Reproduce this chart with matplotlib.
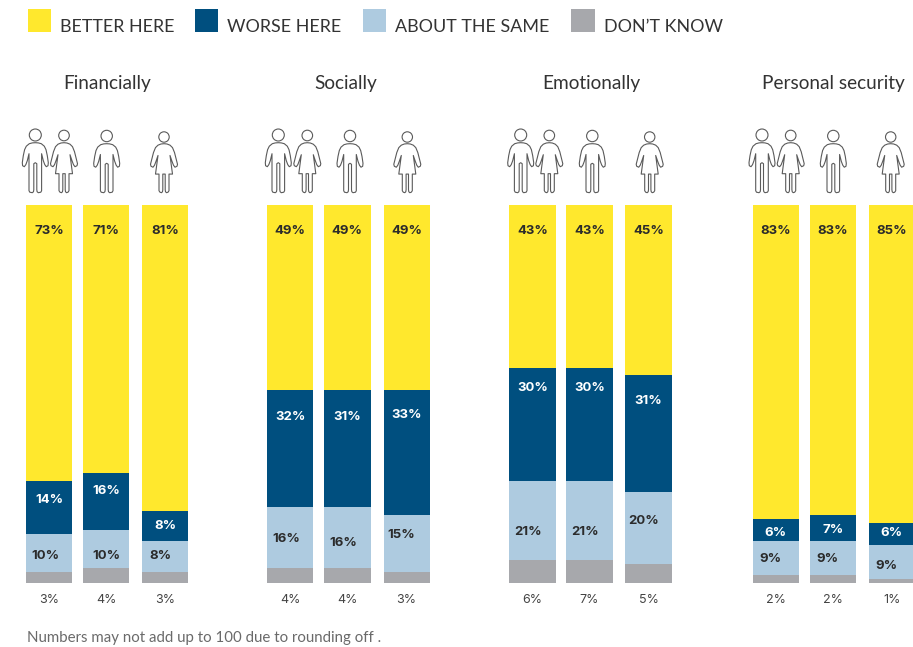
import matplotlib
matplotlib.use('Agg')
import matplotlib.pyplot as plt
from matplotlib.patches import Circle, Polygon, Rectangle

plt.rcParams['font.family'] = ['Lato', 'DejaVu Sans']

groups = ['Financially', 'Socially', 'Emotionally', 'Personal security']
legend_names = ['BETTER HERE', 'WORSE HERE', 'ABOUT THE SAME', 'DON\u2019T KNOW']
colors = ['#FFE82D', '#004F7F', '#AECBE0', '#A7A8AC']

# heights as drawn (printed labels don't always add up to 100)
better = [73, 71, 81, 49, 49, 49, 43, 43, 45, 83, 82, 84]
worse = [14, 15, 8, 31, 31, 33, 30, 30, 31, 6, 7, 6]
same = [10, 10, 8, 16, 16, 15, 21, 21, 19, 9, 9, 9]
dont_know = [3, 4, 3, 4, 4, 3, 6, 6, 5, 2, 2, 1]

better_labels = ['73%', '71%', '81%', '49%', '49%', '49%', '43%', '43%', '45%', '83%', '83%', '85%']
worse_labels = ['14%', '16%', '8%', '32%', '31%', '33%', '30%', '30%', '31%', '6%', '7%', '6%']
same_labels = ['10%', '10%', '8%', '16%', '16%', '15%', '21%', '21%', '20%', '9%', '9%', '9%']
dk_labels = ['3%', '4%', '3%', '4%', '4%', '3%', '6%', '7%', '5%', '2%', '2%', '1%']

# layout, in pixels of the 913x647 picture
bar_left = [26.0, 83.0, 142.2, 267.0, 324.2, 383.5, 509.4, 566.4, 625.4, 752.6, 809.6, 868.6]
bar_w = 46.3
y_top, y_bot = 205, 583
worse_y = [499.7, 490.7, 525.7, 416, 416, 415, 387.7, 387.7, 400.7, 532, 529.7, 532]
same_y = [555.7, 555.7, 555.7, 538.3, 542.3, 534, 531.7, 531.7, 520.7, 559, 559, 565.7]
same_dx = [-4, 0, -5, -4, -4.4, -5, -4.5, -4.5, -5, -5.5, -5.5, -5.5]
title_x = [107, 346, 591, 833]
icon_x = [[35.3, 64, 106.7, 164], [278.3, 307.3, 350, 407.3], [520.7, 549.3, 592.3, 649.7], [762, 790.7, 833.3, 890.7]]
legend_box_x = [27.7, 194.7, 362.7, 571]
legend_text_x = [60, 227, 395, 604]

label_font = ['Inter', 'DejaVu Sans']
ink = '#5a5a5a'

fig = plt.figure(figsize=(9.13, 6.47), dpi=100)

# bars live on a percent axis, overlay is in pixels for text and icons
ax = fig.add_axes([0, 0, 1, 1])
ax.set_xlim(0, 913)
px_per_pct = (y_bot - y_top) / 100
ax.set_ylim(-(647 - y_bot) / px_per_pct, y_bot / px_per_pct)
ax.axis('off')

centers = [x + bar_w / 2 for x in bar_left]
base = [0] * 12
for vals, col in zip([dont_know, same, worse, better], colors[::-1]):
    ax.bar(centers, vals, width=bar_w, bottom=base, color=col, linewidth=0)
    base = [b + v for b, v in zip(base, vals)]

ov = fig.add_axes([0, 0, 1, 1])
ov.set_xlim(0, 913)
ov.set_ylim(647, 0)
ov.axis('off')
ov.patch.set_alpha(0)


def figure_icon(cx, head_y, r, half):
    # half outline is given for the left side, y measured up from the feet
    pts = half + [(-x, y) for x, y in half[-2:0:-1]]
    ov.add_patch(Circle((cx, head_y), r, fill=False, ec=ink, lw=0.8))
    ov.add_patch(Polygon([(cx + x, 192.7 - y) for x, y in pts], closed=True, fill=False, ec=ink, lw=0.8, joinstyle='round'))


man_half = [(0, 50), (-3, 49.8), (-6, 49), (-9, 46.5), (-10.7, 43), (-12, 37), (-13, 30), (-12.7, 27), (-11, 26), (-9.5, 28),
            (-8, 32), (-6.3, 39), (-6.3, 2), (-5.5, 0.5), (-3, 0), (-1.8, 1), (-1.5, 3), (-1.5, 29), (0, 30)]
woman_half = [(0, 50), (-3, 49.7), (-6, 48.5), (-8.5, 46), (-10.5, 41), (-12, 35), (-13.5, 29), (-13, 27), (-11, 26), (-9.5, 28),
              (-8, 32), (-6, 38), (-8.5, 19), (-5, 19), (-5, 2), (-4, 0.5), (-2.5, 0), (-1.5, 1), (-1.2, 3), (-1.2, 19), (0, 19)]

for xs in icon_x:
    figure_icon(xs[0], 135, 6, man_half)
    figure_icon(xs[1], 135.5, 5.3, woman_half)
    figure_icon(xs[2], 136, 5.7, [(x, y * 0.98) for x, y in man_half])
    figure_icon(xs[3], 137, 5.2, [(x, y * 0.98) for x, y in woman_half])

# legend
for lx, tx, name, col in zip(legend_box_x, legend_text_x, legend_names, colors):
    ov.add_patch(Rectangle((lx, 9), 23.6, 23, color=col, lw=0))
    ov.text(tx, 27, name, fontsize=12.9, color='#333333', ha='left', va='center')

for x, name in zip(title_x, groups):
    ov.text(x, 84, name, fontsize=13.7, color='#333333', ha='center', va='center')

for i, c in enumerate(centers):
    ov.text(c, 230.8, better_labels[i], fontsize=9.5, fontweight='bold', family=label_font, color='#2b2b2b', ha='center', va='center', clip_on=True)
    ov.text(c, worse_y[i] + 0.5, worse_labels[i], fontsize=9.5, fontweight='bold', family=label_font, color='#ffffff', ha='center', va='center', clip_on=True)
    ov.text(c + same_dx[i], same_y[i] + 0.5, same_labels[i], fontsize=9.5, fontweight='bold', family=label_font, color='#2b2b2b', ha='center', va='center', clip_on=True)
    ov.text(c, 600, dk_labels[i], fontsize=9, family=label_font, color='#444444', ha='center', va='center', clip_on=True)

ov.text(27, 638, 'Numbers may not add up to 100 due to rounding off .', fontsize=10.8, color='#6a6a6a', ha='left', va='center')

fig.savefig('out.png', dpi=100)
